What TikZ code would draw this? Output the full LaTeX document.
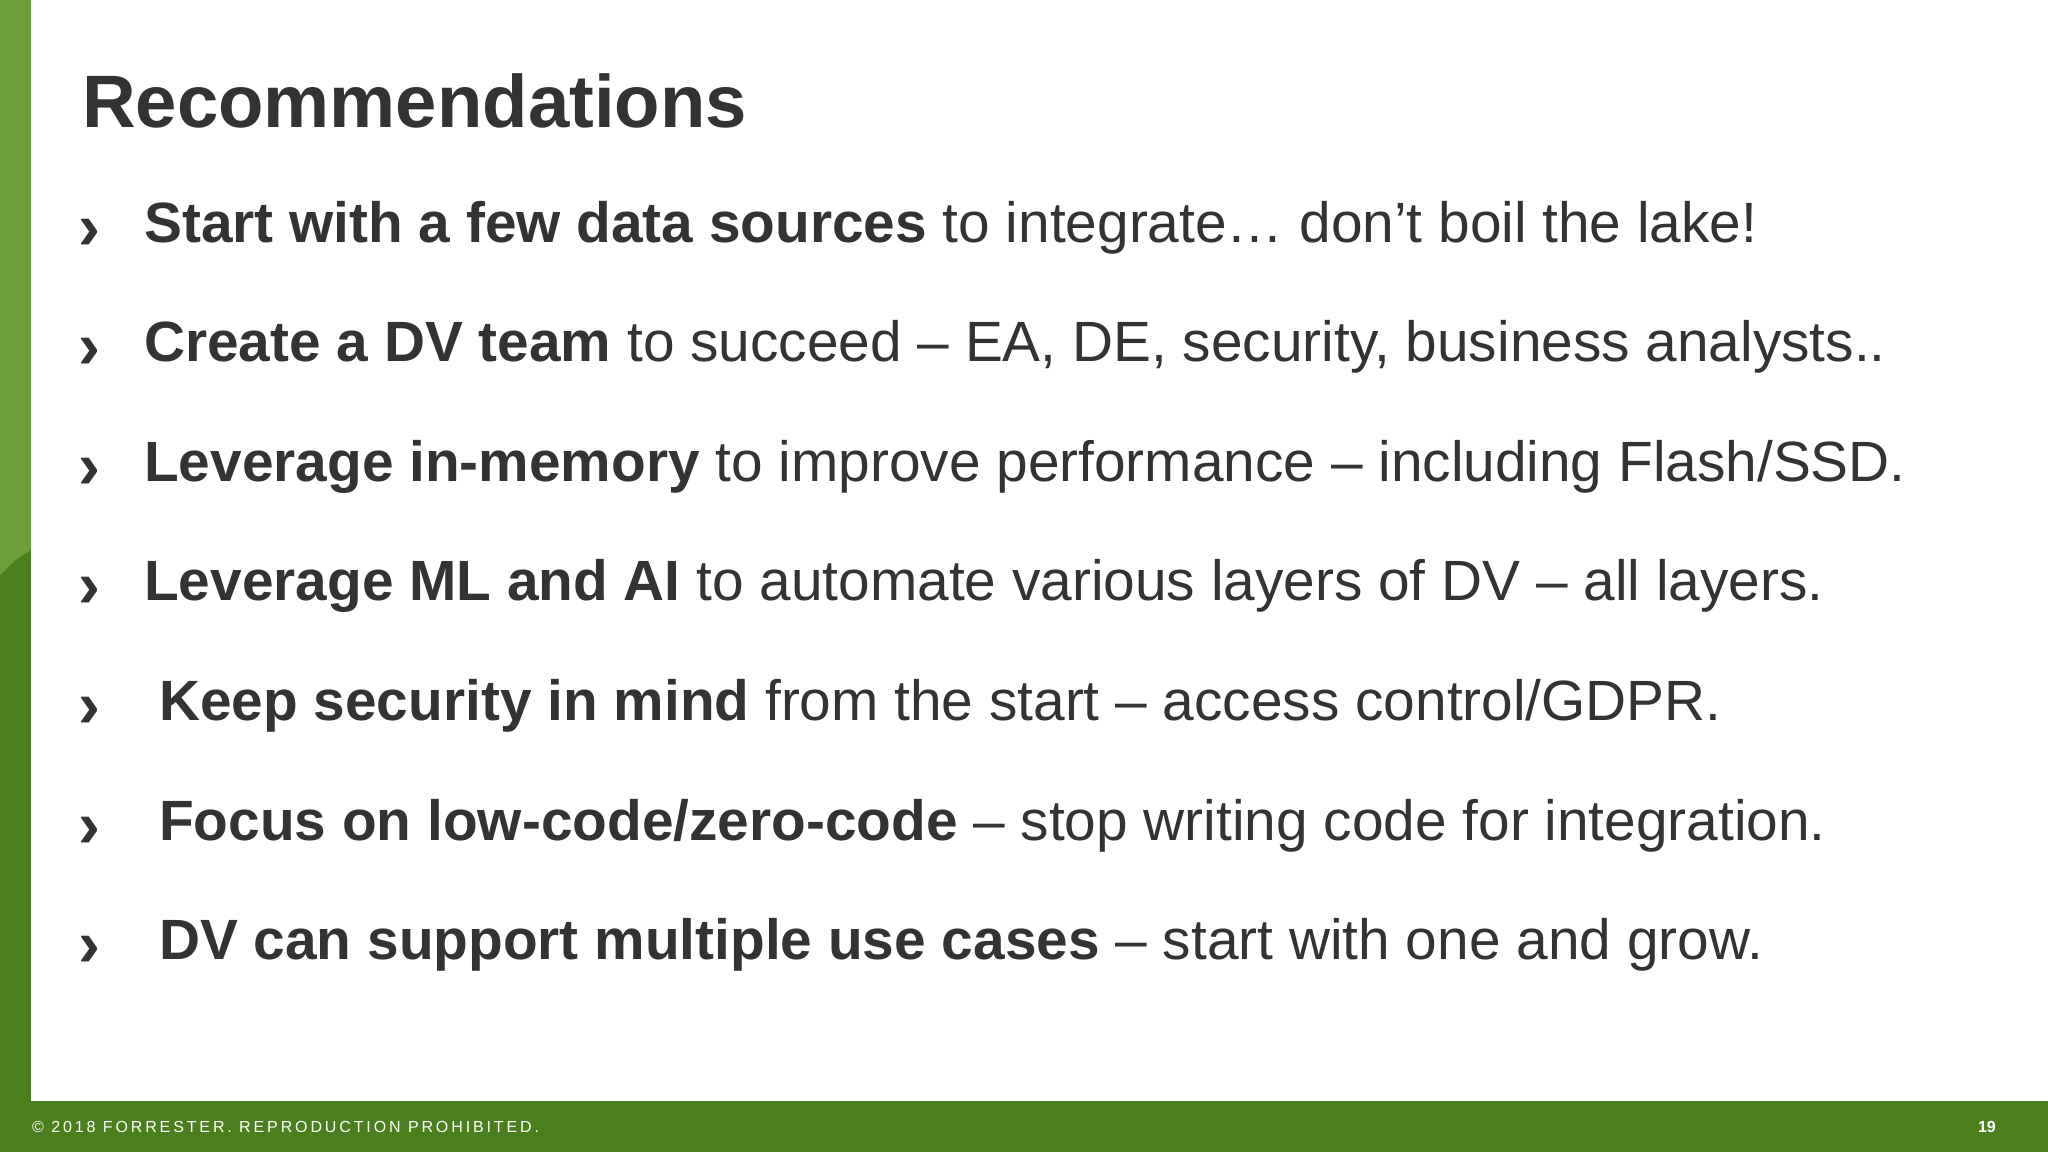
\documentclass[tikz,border=0pt]{standalone}
\usepackage{fontspec}
\setmainfont{Liberation Sans}
\definecolor{dg}{HTML}{4A7F1E}
\definecolor{lg}{HTML}{6A9F3A}
\definecolor{tx}{HTML}{333333}
\begin{document}
\begin{tikzpicture}[x=1pt,y=-1pt,
  bl/.style={anchor=base west,font=\fontsize{56.8}{60}\selectfont,text=tx,inner sep=0pt},
  ch/.style={anchor=base west,font=\fontsize{66}{70}\selectfont\bfseries,text=tx,inner sep=0pt}]
\useasboundingbox (0,0) rectangle (2048,1152);
\fill[white] (0,0) rectangle (2048,1152);
\fill[dg] (0,0) rectangle (31,1152);
\fill[lg] (0,0) -- (31,0) -- (31,550) .. controls (15,560) .. (0,575) -- cycle;
\fill[dg] (0,1101) rectangle (2048,1152);
\node[anchor=base west,font=\fontsize{74.3}{80}\selectfont\bfseries,text=tx,inner sep=0pt] (title) at (82,127) {Recommendations};
\foreach \i/\xx/\t in {
 0/144/{\textbf{Start with a few data sources} to integrate… don’t boil the lake!},
 1/144/{\textbf{Create a DV team} to succeed – EA, DE, security, business analysts..},
 2/144/{\textbf{Leverage in-memory} to improve performance – including Flash/SSD.},
 3/144/{\textbf{Leverage ML and AI} to automate various layers of DV – all layers.},
 4/159/{\textbf{Keep security in mind} from the start – access control/GDPR.},
 5/159/{\textbf{Focus on low-code/zero-code} – stop writing code for integration.},
 6/159/{\textbf{DV can support multiple use cases} – start with one and grow.}}
{
 \node[ch] (c\i) at (78,249+119.6*\i) {›};
 \node[bl] (b\i) at (\xx,242+119.6*\i) {\t};
}
\node[anchor=base west,font=\fontsize{16}{18}\selectfont,text=white,inner sep=0pt] (foot) at (32,1132) {\addfontfeature{LetterSpace=18}© 2018 FORRESTER. REPRODUCTION PROHIBITED.};
\node[anchor=base east,font=\fontsize{16}{18}\selectfont\bfseries,text=white,inner sep=0pt] (pg) at (1996,1132) {19};
\end{tikzpicture}
\end{document}
